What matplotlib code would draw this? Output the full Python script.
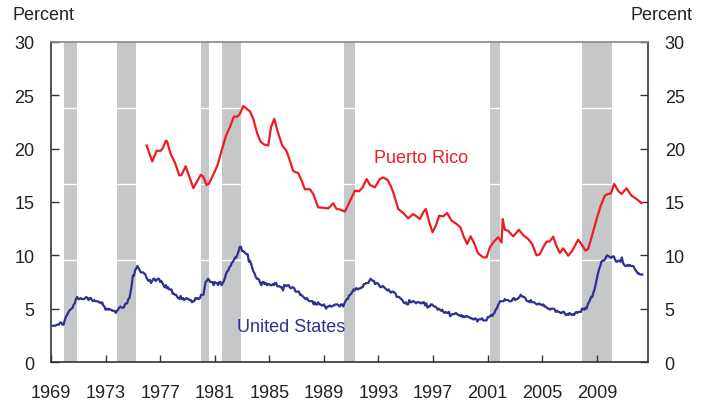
import numpy as np
import matplotlib
matplotlib.use("Agg")
import matplotlib.pyplot as plt

plt.rcParams['font.family'] = ['Liberation Sans', 'DejaVu Sans']

# ---------------- data ----------------
us_start_year = 1969
us_rate = [
    # 1969
    3.4, 3.4, 3.4, 3.4, 3.4, 3.5, 3.5, 3.5, 3.7, 3.7, 3.5, 3.5,
    # 1970
    3.9, 4.2, 4.4, 4.6, 4.8, 4.9, 5.0, 5.1, 5.4, 5.5, 5.9, 6.1,
    # 1971
    5.9, 5.9, 6.0, 5.9, 5.9, 5.9, 6.0, 6.1, 6.0, 5.8, 6.0, 6.0,
    # 1972
    5.8, 5.7, 5.8, 5.7, 5.7, 5.7, 5.6, 5.6, 5.5, 5.6, 5.3, 5.2,
    # 1973
    4.9, 5.0, 4.9, 5.0, 4.9, 4.9, 4.8, 4.8, 4.8, 4.6, 4.8, 4.9,
    # 1974
    5.1, 5.2, 5.1, 5.1, 5.1, 5.4, 5.5, 5.5, 5.9, 6.0, 6.6, 7.2,
    # 1975
    8.1, 8.1, 8.6, 8.8, 9.0, 8.8, 8.6, 8.4, 8.4, 8.4, 8.3, 8.2,
    # 1976
    7.9, 7.7, 7.6, 7.7, 7.4, 7.6, 7.8, 7.8, 7.6, 7.7, 7.8, 7.8,
    # 1977
    7.5, 7.6, 7.4, 7.2, 7.0, 7.2, 6.9, 7.0, 6.8, 6.8, 6.8, 6.4,
    # 1978
    6.4, 6.3, 6.3, 6.1, 6.0, 5.9, 6.2, 5.9, 6.0, 5.8, 5.9, 6.0,
    # 1979
    5.9, 5.9, 5.8, 5.8, 5.6, 5.7, 5.7, 6.0, 5.9, 6.0, 5.9, 6.0,
    # 1980
    6.3, 6.3, 6.3, 6.9, 7.5, 7.6, 7.8, 7.7, 7.5, 7.5, 7.5, 7.2,
    # 1981
    7.5, 7.4, 7.4, 7.2, 7.5, 7.5, 7.2, 7.4, 7.6, 7.9, 8.3, 8.5,
    # 1982
    8.6, 8.9, 9.0, 9.3, 9.4, 9.6, 9.8, 9.8, 10.1, 10.4, 10.8, 10.8,
    # 1983
    10.4, 10.4, 10.3, 10.2, 10.1, 10.1, 9.4, 9.5, 9.2, 8.8, 8.5, 8.3,
    # 1984
    8.0, 7.8, 7.8, 7.7, 7.4, 7.2, 7.5, 7.5, 7.3, 7.4, 7.2, 7.3,
    # 1985
    7.3, 7.2, 7.2, 7.3, 7.2, 7.4, 7.4, 7.1, 7.1, 7.1, 7.0, 7.0,
    # 1986
    6.7, 7.2, 7.2, 7.1, 7.2, 7.2, 7.0, 6.9, 7.0, 7.0, 6.9, 6.6,
    # 1987
    6.6, 6.6, 6.6, 6.3, 6.3, 6.2, 6.1, 6.0, 5.9, 6.0, 5.8, 5.7,
    # 1988
    5.7, 5.7, 5.7, 5.4, 5.6, 5.4, 5.4, 5.6, 5.4, 5.4, 5.3, 5.3,
    # 1989
    5.4, 5.2, 5.0, 5.2, 5.2, 5.3, 5.2, 5.2, 5.3, 5.3, 5.4, 5.4,
    # 1990
    5.4, 5.3, 5.2, 5.4, 5.4, 5.2, 5.5, 5.7, 5.9, 5.9, 6.2, 6.3,
    # 1991
    6.4, 6.6, 6.8, 6.7, 6.9, 6.9, 6.8, 6.9, 6.9, 7.0, 7.0, 7.3,
    # 1992
    7.3, 7.4, 7.4, 7.4, 7.6, 7.8, 7.7, 7.6, 7.6, 7.3, 7.4, 7.4,
    # 1993
    7.3, 7.1, 7.0, 7.1, 7.1, 7.0, 6.9, 6.8, 6.7, 6.8, 6.6, 6.5,
    # 1994
    6.6, 6.6, 6.5, 6.4, 6.1, 6.1, 6.1, 6.0, 5.9, 5.8, 5.6, 5.5,
    # 1995
    5.6, 5.4, 5.4, 5.8, 5.6, 5.6, 5.7, 5.7, 5.6, 5.5, 5.6, 5.6,
    # 1996
    5.6, 5.5, 5.5, 5.6, 5.6, 5.3, 5.5, 5.1, 5.2, 5.2, 5.4, 5.4,
    # 1997
    5.3, 5.2, 5.2, 5.1, 4.9, 5.0, 4.9, 4.8, 4.9, 4.7, 4.6, 4.7,
    # 1998
    4.6, 4.6, 4.7, 4.3, 4.4, 4.5, 4.5, 4.5, 4.6, 4.5, 4.4, 4.4,
    # 1999
    4.3, 4.4, 4.2, 4.3, 4.2, 4.3, 4.3, 4.2, 4.2, 4.1, 4.1, 4.0,
    # 2000
    4.0, 4.1, 4.0, 3.8, 4.0, 4.0, 4.0, 4.1, 3.9, 3.9, 3.9, 3.9,
    # 2001
    4.2, 4.2, 4.3, 4.4, 4.3, 4.5, 4.6, 4.9, 5.0, 5.3, 5.5, 5.7,
    # 2002
    5.7, 5.7, 5.7, 5.9, 5.8, 5.8, 5.8, 5.7, 5.7, 5.7, 5.9, 6.0,
    # 2003
    5.8, 5.9, 5.9, 6.0, 6.1, 6.3, 6.2, 6.1, 6.1, 6.0, 5.8, 5.7,
    # 2004
    5.7, 5.6, 5.8, 5.6, 5.6, 5.6, 5.5, 5.4, 5.4, 5.5, 5.4, 5.4,
    # 2005
    5.3, 5.4, 5.2, 5.2, 5.1, 5.0, 5.0, 4.9, 5.0, 5.0, 5.0, 4.9,
    # 2006
    4.7, 4.8, 4.7, 4.7, 4.6, 4.6, 4.7, 4.7, 4.5, 4.4, 4.5, 4.4,
    # 2007
    4.6, 4.5, 4.4, 4.5, 4.4, 4.6, 4.7, 4.6, 4.7, 4.7, 4.7, 5.0,
    # 2008
    5.0, 4.9, 5.1, 5.0, 5.4, 5.6, 5.8, 6.1, 6.1, 6.5, 6.8, 7.3,
    # 2009
    7.8, 8.3, 8.7, 9.0, 9.4, 9.5, 9.5, 9.6, 9.8, 10.0, 9.9, 9.9,
    # 2010
    9.8, 9.8, 9.9, 9.9, 9.6, 9.4, 9.4, 9.5, 9.5, 9.4, 9.8, 9.3,
    # 2011
    9.1, 9.0, 9.0, 9.1, 9.0, 9.1, 9.0, 9.0, 9.0, 8.8, 8.6, 8.5,
    # 2012
    8.3, 8.3, 8.2, 8.2, 8.2,
]

pr_years = [
    1976.01, 1976.42, 1976.74, 1977.03, 1977.18, 1977.42, 1977.5, 1977.77,
    1978.08, 1978.4, 1978.55, 1978.87, 1979.1, 1979.43, 1979.67, 1979.97,
    1980.15, 1980.4, 1980.57, 1980.85, 1981.19, 1981.5, 1981.82, 1982.1,
    1982.4, 1982.66, 1982.84, 1983.09, 1983.28, 1983.58, 1983.82, 1984.12,
    1984.36, 1984.6, 1984.92, 1985.12, 1985.36, 1985.66, 1985.95, 1986.27,
    1986.5, 1986.75, 1987.12, 1987.37, 1987.6, 1987.97, 1988.22, 1988.58,
    1988.95, 1989.32, 1989.68, 1989.93, 1990.17, 1990.54, 1990.9, 1991.27,
    1991.56, 1991.8, 1992.13, 1992.37, 1992.74, 1993.1, 1993.35, 1993.67,
    1993.9, 1994.08, 1994.45, 1994.81, 1995.18, 1995.54, 1995.74, 1996.03,
    1996.28, 1996.47, 1996.72, 1996.96, 1997.2, 1997.45, 1997.74, 1998.03,
    1998.35, 1998.72, 1999.01, 1999.26, 1999.5, 1999.75, 1999.99, 2000.3,
    2000.67, 2000.92, 2001.16, 2001.45, 2001.77, 2002.02, 2002.1, 2002.26,
    2002.5, 2002.87, 2003.29, 2003.6, 2003.97, 2004.26, 2004.58, 2004.82,
    2005.07, 2005.31, 2005.55, 2005.8, 2006.05, 2006.29, 2006.53, 2006.9,
    2007.19, 2007.63, 2007.87, 2008.17, 2008.36, 2008.65, 2008.98, 2009.29,
    2009.59, 2009.83, 2010.03, 2010.27, 2010.56, 2010.81, 2011.18, 2011.54,
    2011.91, 2012.27,
]
pr_rate = [
    20.3, 18.8, 19.8, 19.8, 20.0, 20.75, 20.7, 19.5,
    18.7, 17.5, 17.5, 18.35, 17.5, 16.3, 16.85, 17.55,
    17.4, 16.6, 16.7, 17.45, 18.4, 19.8, 21.2, 22.0,
    23.0, 23.0, 23.25, 24.0, 23.8, 23.5, 22.8, 21.4,
    20.66, 20.4, 20.3, 22.0, 22.8, 21.4, 20.3, 19.75,
    18.9, 17.9, 17.7, 17.0, 16.2, 16.2, 15.75, 14.5,
    14.45, 14.4, 14.88, 14.34, 14.3, 14.1, 15.06, 16.06,
    16.0, 16.3, 17.15, 16.6, 16.38, 17.15, 17.3, 17.06,
    16.5, 15.9, 14.34, 13.97, 13.47, 13.87, 13.7, 13.4,
    14.03, 14.34, 13.1, 12.16, 12.78, 13.72, 13.65, 13.97,
    13.25, 12.94, 12.6, 11.7, 11.06, 11.78, 11.2, 10.19,
    9.81, 9.8, 10.75, 11.28, 11.69, 11.2, 13.4, 12.4,
    12.3, 11.78, 12.4, 11.9, 11.53, 11.06, 10.0, 10.1,
    10.75, 11.28, 11.3, 11.75, 10.85, 10.22, 10.66, 9.97,
    10.4, 11.47, 11.06, 10.44, 10.6, 11.84, 13.4, 14.66,
    15.6, 15.75, 15.8, 16.7, 16.06, 15.75, 16.28, 15.6,
    15.28, 14.9,
]

recession_start = [1969.92, 1973.83, 1980.0, 1981.5, 1990.5, 2001.17, 2007.92]
recession_end = [1970.92, 1975.25, 1980.58, 1982.9, 1991.25, 2001.92, 2010.1]

x_ticks = [1969, 1973, 1977, 1981, 1985, 1989, 1993, 1997, 2001, 2005, 2009]
y_ticks = [0, 5, 10, 15, 20, 25, 30]

# ---------------- plot ----------------
RED = '#ed1c24'
BLUE = '#2e3192'
GREY = '#c6c7c9'
DARK = '#333333'

us_x = us_start_year + np.arange(len(us_rate)) / 12.0

fig = plt.figure(figsize=(7.12, 4.02), dpi=100)
ax = fig.add_axes([51 / 712, 1 - 363 / 402, (648 - 51) / 712, (363 - 43) / 402])

for s, e in zip(recession_start, recession_end):
    ax.axvspan(s, e, color=GREY, lw=0, zorder=1)
for yv in [23.8, 16.7, 9.56]:
    ax.axhline(yv, color='white', lw=1.0, zorder=1.5)

ax.plot(us_x, us_rate, color=BLUE, lw=1.6, zorder=3)
ax.plot(pr_years, pr_rate, color=RED, lw=1.6, zorder=3)

ax.set_xlim(1969.0, 2012.75)
ax.set_ylim(0, 30)
ax.set_xticks(x_ticks)
ax.set_xticklabels([str(t) for t in x_ticks])
ax.set_yticks(y_ticks)

for side in ['left', 'right', 'bottom']:
    ax.spines[side].set_color(DARK)
    ax.spines[side].set_linewidth(1.2)
ax.spines['top'].set_color('#888888')
ax.spines['top'].set_linewidth(1.2)

ax.tick_params(axis='x', direction='in', length=5, width=1, color=DARK,
               labelsize=13, pad=16, labelcolor='#222222')
ax.tick_params(axis='y', direction='in', length=6, width=1, color=DARK,
               labelsize=13, pad=12, labelcolor='#222222',
               left=True, right=True, labelleft=True, labelright=True)

fig.text(12 / 712, 1 - 16 / 402, 'Percent', fontsize=13, color='#222222',
         ha='left', va='center')
fig.text(693 / 712, 1 - 16 / 402, 'Percent', fontsize=13, color='#222222',
         ha='right', va='center')

ax.text(1992.7, 19.2, 'Puerto Rico', color=RED, fontsize=13, ha='left', va='center')
ax.text(1982.6, 3.3, 'United States', color=BLUE, fontsize=13, ha='left', va='center')

fig.savefig('out.png', dpi=100)
